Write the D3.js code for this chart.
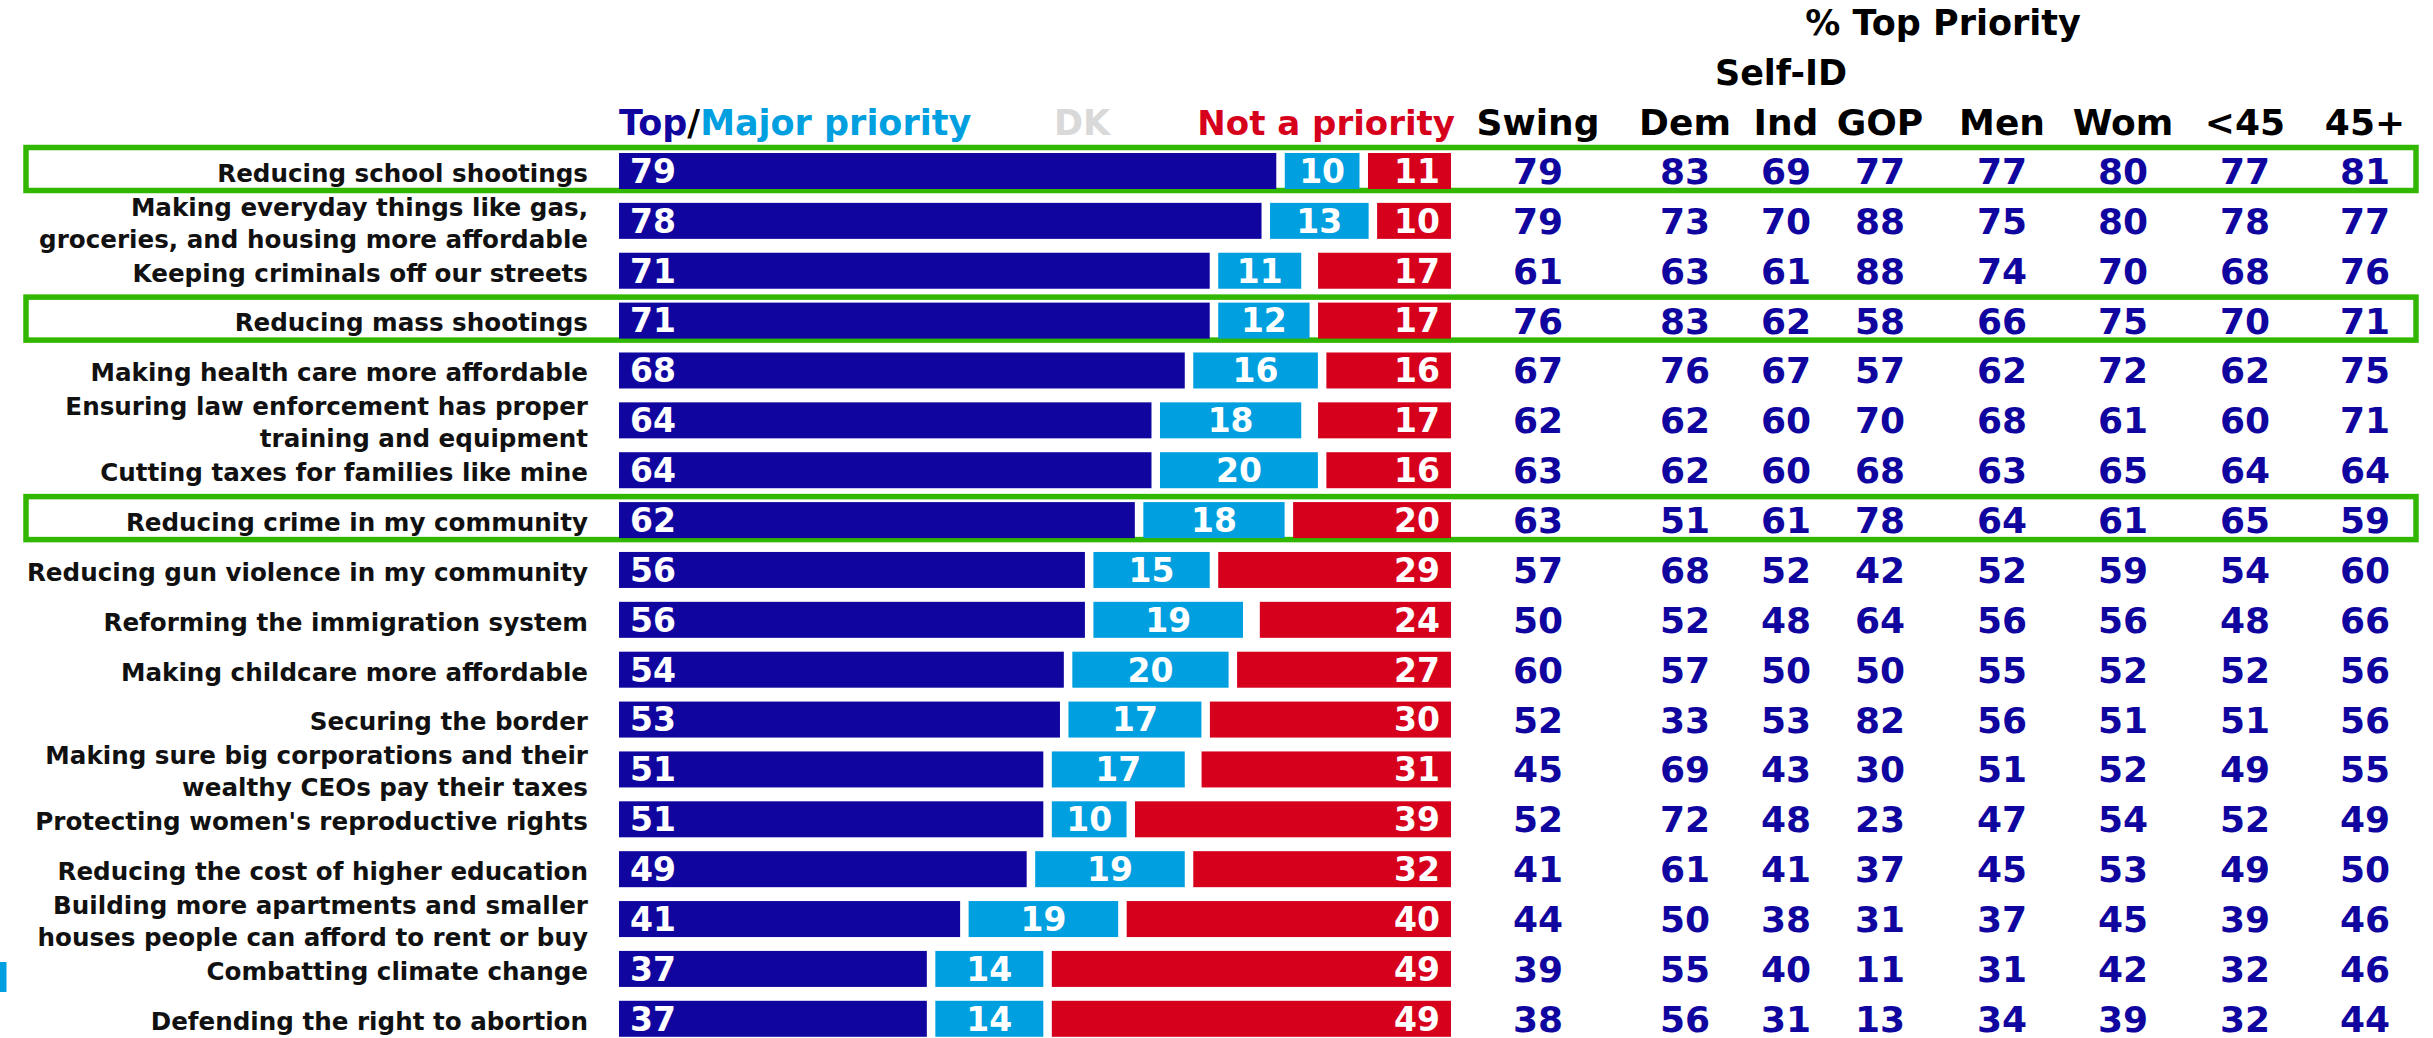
<!DOCTYPE html>
<html>
<head>
<meta charset="utf-8">
<script src="https://cdn.jsdelivr.net/npm/d3@7"></script>
<style>
  html, body { margin: 0; padding: 0; background: #fff; }
  svg { display: block; }
  text { font-family: "DejaVu Sans", sans-serif; font-weight: bold; }
</style>
</head>
<body>
<div id="chart"></div>
<script>
// priorities, top to bottom (line breaks as in the original)
var labels = [
  ["Reducing school shootings"],
  ["Making everyday things like gas,", "groceries, and housing more affordable"],
  ["Keeping criminals off our streets"],
  ["Reducing mass shootings"],
  ["Making health care more affordable"],
  ["Ensuring law enforcement has proper", "training and equipment"],
  ["Cutting taxes for families like mine"],
  ["Reducing crime in my community"],
  ["Reducing gun violence in my community"],
  ["Reforming the immigration system"],
  ["Making childcare more affordable"],
  ["Securing the border"],
  ["Making sure big corporations and their", "wealthy CEOs pay their taxes"],
  ["Protecting women's reproductive rights"],
  ["Reducing the cost of higher education"],
  ["Building more apartments and smaller", "houses people can afford to rent or buy"],
  ["Combatting climate change"],
  ["Defending the right to abortion"]
]
var topMajor = [79, 78, 71, 71, 68, 64, 64, 62, 56, 56, 54, 53, 51, 51, 49, 41, 37, 37]
var major    = [10, 13, 11, 12, 16, 18, 20, 18, 15, 19, 20, 17, 17, 10, 19, 19, 14, 14]
var dk       = [ 0,  0,  1,  0,  0,  1,  0,  0,  0,  1,  0,  0,  1,  0,  0,  0,  0,  0]
var notPri   = [11, 10, 17, 17, 16, 17, 16, 20, 29, 24, 27, 30, 31, 39, 32, 40, 49, 49]

// % top priority by group
var columns = ["Swing", "Dem", "Ind", "GOP", "Men", "Wom", "<45", "45+"]
var swing   = [79, 79, 61, 76, 67, 62, 63, 63, 57, 50, 60, 52, 45, 52, 41, 44, 39, 38]
var dem     = [83, 73, 63, 83, 76, 62, 62, 51, 68, 52, 57, 33, 69, 72, 61, 50, 55, 56]
var ind     = [69, 70, 61, 62, 67, 60, 60, 61, 52, 48, 50, 53, 43, 48, 41, 38, 40, 31]
var gop     = [77, 88, 88, 58, 57, 70, 68, 78, 42, 64, 50, 82, 30, 23, 37, 31, 11, 13]
var men     = [77, 75, 74, 66, 62, 68, 63, 64, 52, 56, 55, 56, 51, 47, 45, 37, 31, 34]
var wom     = [80, 80, 70, 75, 72, 61, 65, 61, 59, 56, 52, 51, 52, 54, 53, 45, 42, 39]
var under45 = [77, 78, 68, 70, 62, 60, 64, 65, 54, 48, 52, 51, 49, 52, 49, 39, 32, 32]
var over45  = [81, 77, 76, 71, 75, 71, 64, 59, 60, 66, 56, 56, 55, 49, 50, 46, 46, 44]
var highlighted = [0, 3, 7]

var colDark = "#10069f", colLight = "#009fdf", colRed = "#d6001c", colGreen = "#31b700"

var W = 2433, H = 1038
var svg = d3.select("#chart").append("svg")
    .attr("width", W).attr("height", H)

// rows
var step = 49.87, barH = 36, firstTop = 153
var pIn = 1 - barH / step
var y = d3.scaleBand()
    .domain(d3.range(labels.length))
    .range([firstTop - step * pIn / 2, firstTop - step * pIn / 2 + labels.length * step])
    .paddingInner(pIn)
    .paddingOuter(pIn / 2)

var rows = labels.map(function(l, i) {
    return {i: i, label: l, top: topMajor[i], major: major[i], dk: dk[i], not: notPri[i],
            groups: [swing[i], dem[i], ind[i], gop[i], men[i], wom[i], under45[i], over45[i]]}
})

// green highlight boxes
svg.selectAll(".hl")
    .data(highlighted)
    .enter().append("rect")
    .attr("class", "hl")
    .attr("x", 26).attr("width", 2390)
    .attr("y", function(i) { return y(i) - 5.5 })
    .attr("height", 43)
    .attr("fill", "none")
    .attr("stroke", colGreen)
    .attr("stroke-width", 5.5)

// row labels
var lab = svg.selectAll(".lab")
    .data(rows)
    .enter().append("text")
    .attr("class", "lab")
    .attr("text-anchor", "end")
    .attr("font-size", 24.6)
    .attr("fill", "#111")
lab.selectAll("tspan")
    .data(function(d) {
        var n = d.label.length
        return d.label.map(function(t, k) {
            var c = y(d.i) + barH / 2 + 2
            return {t: t, yy: n == 1 ? c : c + (k - 0.5) * 32}
        })
    })
    .enter().append("tspan")
    .attr("x", 588)
    .attr("y", function(d) { return d.yy })
    .attr("dy", "0.36em")
    .text(function(d) { return d.t })

// stacked bars
var x0 = 619, x1 = 1451, gap = 8.5
var segs = []
rows.forEach(function(d) {
    var total = d.top + d.major + d.dk + d.not
    var x = d3.scaleLinear().domain([0, total]).range([x0, x1])
    var parts = [
        {k: "top", v: d.top, c: colDark},
        {k: "major", v: d.major, c: colLight},
        {k: "dk", v: d.dk, c: "none"},
        {k: "not", v: d.not, c: colRed}
    ]
    var cum = 0
    parts.forEach(function(p, j) {
        var a = x(cum) + (j > 0 ? gap : 0)
        cum += p.v
        var b = x(cum)
        segs.push({i: d.i, k: p.k, v: p.v, c: p.c, xa: a, xb: b})
    })
})
var bars = segs.filter(function(s) { return s.k != "dk" })

svg.selectAll(".bar")
    .data(bars)
    .enter().append("rect")
    .attr("class", "bar")
    .attr("x", function(s) { return s.xa })
    .attr("width", function(s) { return Math.max(0, s.xb - s.xa) })
    .attr("y", function(s) { return y(s.i) })
    .attr("height", y.bandwidth())
    .attr("fill", function(s) { return s.c })

svg.selectAll(".barval")
    .data(bars)
    .enter().append("text")
    .attr("class", "barval")
    .attr("x", function(s) {
        if (s.k == "top") return s.xa + 11
        if (s.k == "not") return s.xb - 11
        return (s.xa + s.xb) / 2
    })
    .attr("text-anchor", function(s) {
        return s.k == "top" ? "start" : (s.k == "not" ? "end" : "middle")
    })
    .attr("y", function(s) { return y(s.i) + barH / 2 })
    .attr("dy", "0.36em")
    .attr("font-size", 33)
    .attr("fill", "#fff")
    .text(function(s) { return s.v })

// legend over the bars
var hy = 135
var leg = svg.append("text").attr("x", x0).attr("y", hy).attr("font-size", 35)
leg.append("tspan").attr("fill", colDark).text("Top")
leg.append("tspan").attr("fill", "#000").text("/")
leg.append("tspan").attr("fill", colLight).text("Major priority")
svg.append("text").attr("x", 1082).attr("y", hy).attr("text-anchor", "middle")
    .attr("font-size", 35).attr("fill", "#d9d9d9").text("DK")
svg.append("text").attr("x", 1455).attr("y", hy).attr("text-anchor", "end")
    .attr("font-size", 34).attr("fill", colRed).text("Not a priority")

// group table
var colX = d3.scaleOrdinal()
    .domain(columns)
    .range([1538, 1685, 1786, 1880, 2002, 2123, 2245, 2365])

svg.append("text").attr("x", 1943).attr("y", 35).attr("text-anchor", "middle")
    .attr("font-size", 35).attr("fill", "#000").text("% Top Priority")
svg.append("text").attr("x", 1781).attr("y", 85).attr("text-anchor", "middle")
    .attr("font-size", 35).attr("fill", "#000").text("Self-ID")

svg.selectAll(".colhead")
    .data(columns)
    .enter().append("text")
    .attr("class", "colhead")
    .attr("x", function(c) { return colX(c) })
    .attr("y", hy)
    .attr("text-anchor", "middle")
    .attr("font-size", 36)
    .attr("fill", "#000")
    .text(function(c) { return c })

var cells = []
rows.forEach(function(d) {
    d.groups.forEach(function(v, j) { cells.push({i: d.i, col: columns[j], v: v}) })
})
svg.selectAll(".cell")
    .data(cells)
    .enter().append("text")
    .attr("class", "cell")
    .attr("x", function(c) { return colX(c.col) })
    .attr("y", function(c) { return y(c.i) + barH / 2 })
    .attr("dy", "0.36em")
    .attr("text-anchor", "middle")
    .attr("font-size", 36)
    .attr("fill", colDark)
    .text(function(c) { return c.v })

// small light blue mark at the left edge
svg.append("rect").attr("x", 0).attr("y", 962).attr("width", 6.5).attr("height", 30)
    .attr("fill", colLight)
</script>
</body>
</html>
